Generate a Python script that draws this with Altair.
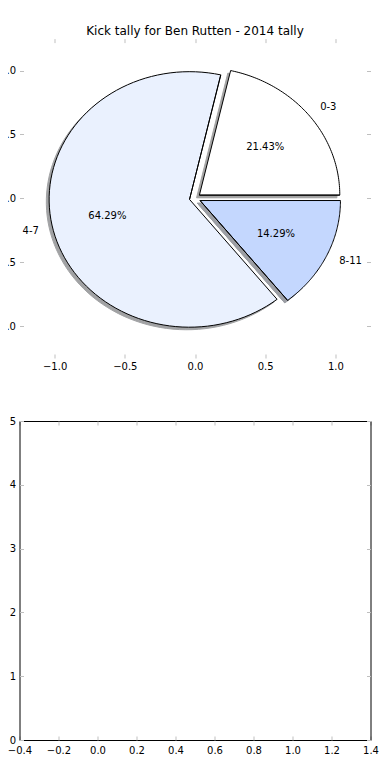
import numpy as np
import pandas as pd
import altair as alt

# ---------------- data ----------------
title_text = "Kick tally for Ben Rutten - 2014 tally"
slice_labels = ["0-3", "4-7", "8-11"]
slice_counts = [3, 9, 2]
slice_colors = ["#ffffff", "#eaf1fe", "#c4d7fe"]
slice_explode = [0.04, 0.04, 0.04]
shadow_shift = [-0.02, -0.02]

pie_ticks = [-1.0, -0.5, 0.0, 0.5, 1.0]
pie_domain = [-1.25, 1.25]
empty_x_ticks = [-0.4, -0.2, 0.0, 0.2, 0.4, 0.6, 0.8, 1.0, 1.2, 1.4]
empty_y_ticks = [0, 1, 2, 3, 4, 5]
empty_x_domain = [-0.4, 1.4]
empty_y_domain = [0, 5]

# ---------------- geometry (derived from the data) ----------------
total = sum(slice_counts)
start = 0.0
wedge_frames, shadow_frames = [], []
text_rows = []
for lab, cnt, col, ex in zip(slice_labels, slice_counts, slice_colors, slice_explode):
    frac = cnt / total
    t1, t2 = start * 360.0, (start + frac) * 360.0
    start += frac
    tm = np.radians((t1 + t2) / 2.0)
    cx, cy = ex * np.cos(tm), ex * np.sin(tm)
    ang = np.radians(np.linspace(t1, t2, 90))
    xs = np.concatenate([[cx], cx + np.cos(ang), [cx, cx + np.cos(ang[0])]])
    ys = np.concatenate([[cy], cy + np.sin(ang), [cy, cy + np.sin(ang[0])]])
    wedge_frames.append(pd.DataFrame({"slice": lab, "idx": np.arange(len(xs)), "x": xs, "y": ys}))
    shadow_frames.append(pd.DataFrame({"slice": lab, "idx": np.arange(len(xs)),
                                       "x": xs + shadow_shift[0], "y": ys + shadow_shift[1]}))
    lx, ly = cx + 1.1 * np.cos(tm), cy + 1.1 * np.sin(tm)
    text_rows.append({"x": lx, "y": ly, "text": lab, "kind": "left" if lx > 0 else "right"})
    px, py = cx + 0.6 * np.cos(tm), cy + 0.6 * np.sin(tm)
    text_rows.append({"x": px, "y": py, "text": f"{frac * 100:.2f}%", "kind": "center"})
text_df = pd.DataFrame(text_rows)

# ---------------- layout constants ----------------
W, H = 351, 319
FONT = "DejaVu Sans"
TICK = "#bfbfbf"

top_x = alt.Scale(domain=pie_domain, range=[0, W], nice=False, zero=False)
top_y = alt.Scale(domain=pie_domain, range=[-63, -382.4], nice=False, zero=False)
bot_x = alt.Scale(domain=empty_x_domain, range=[0, W], nice=False, zero=False)
bot_y = alt.Scale(domain=empty_y_domain, range=[H, 0], nice=False, zero=False)


def ax(**kw):
    base = dict(grid=False, title=None, labelFont=FONT, labelFontSize=10, labelColor="black",
                tickColor=TICK, tickWidth=1, tickSize=4, domain=False, ticks=False, labels=False,
                labelFlush=False, labelOverlap=False, domainColor="black", domainWidth=1)
    base.update(kw)
    return alt.Axis(**base)


layers = []

# ---- bottom (empty) panel axes ----
frame_df = pd.DataFrame({"x": empty_x_domain, "y": empty_y_domain})


def bot_layer(xaxis, yaxis):
    return alt.Chart(frame_df).mark_point(opacity=0).encode(
        x=alt.X("x:Q", scale=bot_x, axis=xaxis),
        y=alt.Y("y:Q", scale=bot_y, axis=yaxis),
    )


layers.append(bot_layer(
    ax(orient="bottom", domain=True, labels=True, values=empty_x_ticks, format=".1f", labelPadding=5),
    ax(orient="left", domain=True, labels=True, values=empty_y_ticks, format="d", labelPadding=4),
))
layers.append(bot_layer(ax(orient="top", domain=True), ax(orient="right", domain=True)))
layers.append(bot_layer(ax(orient="bottom", ticks=True, values=empty_x_ticks, offset=-4),
                        ax(orient="left", ticks=True, values=empty_y_ticks, offset=-4)))
layers.append(bot_layer(ax(orient="top", ticks=True, values=empty_x_ticks, offset=-4),
                        ax(orient="right", ticks=True, values=empty_y_ticks, offset=-4)))

# ---- pie panel ----
shadow_df = pd.concat(shadow_frames, ignore_index=True)
wedge_df = pd.concat(wedge_frames, ignore_index=True)

first = True
for lab, col in zip(slice_labels, slice_colors):
    rgb = [int(col[i:i + 2], 16) for i in (1, 3, 5)]
    sh = "#" + "".join(f"{int(round(0.3 * v)):02x}" for v in rgb)
    if first:
        xa = ax(orient="bottom", ticks=True, labels=True, values=pie_ticks, format=".1f",
                offset=-(H + 67), labelPadding=3)
        ya = ax(orient="left", ticks=True, labels=True, values=pie_ticks, format=".1f",
                offset=-4, labelPadding=4)
    else:
        xa, ya = None, None
    layers.append(
        alt.Chart(shadow_df).transform_filter(alt.datum.slice == lab)
        .mark_line(fill=sh, stroke=sh, strokeWidth=1, opacity=0.5)
        .encode(x=alt.X("x:Q", scale=top_x, axis=xa),
                y=alt.Y("y:Q", scale=top_y, axis=ya),
                order="idx:Q")
    )
    first = False

first = True
for lab, col in zip(slice_labels, slice_colors):
    if first:
        xa = ax(orient="top", ticks=True, values=pie_ticks, offset=378.4)
        ya = ax(orient="right", ticks=True, values=pie_ticks, offset=-4)
    else:
        xa, ya = None, None
    layers.append(
        alt.Chart(wedge_df).transform_filter(alt.datum.slice == lab)
        .mark_line(fill=col, stroke="black", strokeWidth=1)
        .encode(x=alt.X("x:Q", scale=top_x, axis=xa),
                y=alt.Y("y:Q", scale=top_y, axis=ya),
                order="idx:Q")
    )
    first = False

for kind in ["center", "left", "right"]:
    layers.append(
        alt.Chart(text_df).transform_filter(alt.datum.kind == kind)
        .mark_text(align=kind, baseline="middle", font=FONT, fontSize=10, color="black")
        .encode(x=alt.X("x:Q", scale=top_x, axis=None),
                y=alt.Y("y:Q", scale=top_y, axis=None),
                text="text:N")
    )

chart = (
    alt.layer(*layers)
    .resolve_scale(x="independent", y="independent")
    .resolve_axis(x="independent", y="independent")
    .properties(
        width=W, height=H,
        autosize=alt.AutoSizeParams(type="none"),
        padding={"left": 11.5, "top": 413, "right": 11.5, "bottom": 20},
        title=alt.TitleParams(text=title_text, font=FONT, fontSize=12, fontWeight="normal",
                              color="black", anchor="middle", frame="group", offset=0),
    )
    .configure_view(strokeWidth=0)
)

chart.save("out.html", embed_options={"renderer": "svg", "actions": False})
